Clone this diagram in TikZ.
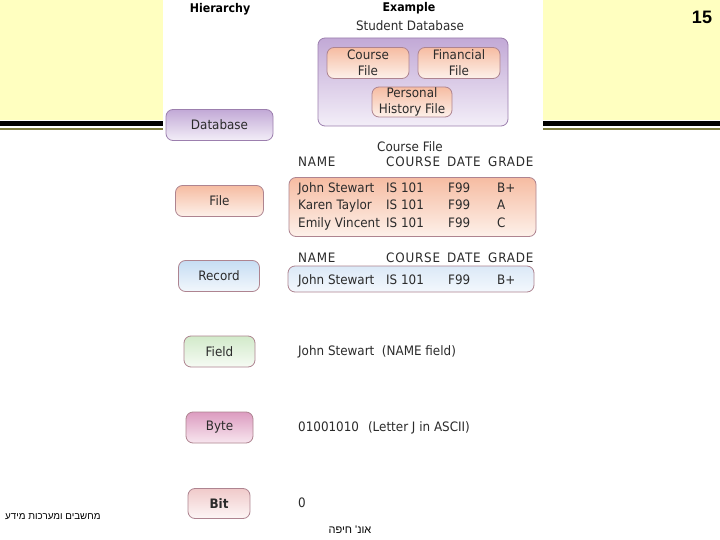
\documentclass[tikz,border=0pt]{standalone}
\usepackage{fontspec}
\setmainfont{DejaVu Sans}[FakeStretch=0.92]
\newfontfamily\headfont{DejaVu Sans}[FakeStretch=0.92, LetterSpace=6]
\newfontfamily\numfont{Liberation Sans}
\newfontfamily\hebfont[Script=Hebrew]{Liberation Sans}
\TeXXeTstate=1
\definecolor{slideyellow}{HTML}{FFFFC0}
\definecolor{oliveline}{HTML}{7F7F3F}
\definecolor{txt}{HTML}{2B2B2B}
\definecolor{purpleedge}{HTML}{9C7FAE}
\definecolor{pinkedge}{HTML}{AE8490}
\definecolor{c8b2da}{HTML}{C2A9D6}
\definecolor{f3eef8}{HTML}{F3EEF8}
\definecolor{f6bca2}{HTML}{F6BCA2}
\definecolor{fdf1ea}{HTML}{FDF1EA}
\definecolor{c6ddf3}{HTML}{C6DDF3}
\definecolor{f2f7fc}{HTML}{F2F7FC}
\definecolor{greentop}{HTML}{D2EACA}
\definecolor{greenbot}{HTML}{F6FBF4}
\definecolor{dc9cc0}{HTML}{DC9CC0}
\definecolor{f8e6ef}{HTML}{F8E6EF}
\definecolor{f3d2d2}{HTML}{F0CACA}
\definecolor{fdf6f6}{HTML}{FDF6F6}
\definecolor{dbe9f7}{HTML}{DBE9F7}
\definecolor{f4f8fd}{HTML}{F4F8FD}
\tikzset{
  lbl/.style={font=\fontsize{13}{15}\selectfont, text=txt, inner sep=0pt},
  cell/.style={lbl, anchor=base west},
  headcell/.style={cell, font=\headfont\fontsize{13}{15}\selectfont},
  bold/.style={font=\fontsize{12}{15}\selectfont\bfseries, text=black, inner sep=0pt},
  rbox/.style={draw, rounded corners=7pt, line width=0.8pt, inner sep=0pt, align=center,
    font=\fontsize{13}{16}\selectfont, text=txt},
  purplebox/.style={rbox, draw=purpleedge, top color=c8b2da, bottom color=f3eef8},
  orangebox/.style={rbox, draw=pinkedge, top color=f6bca2, bottom color=fdf1ea},
  bluebox/.style={rbox, draw=pinkedge, top color=c6ddf3, bottom color=f2f7fc},
  greenbox/.style={rbox, draw=pinkedge, top color=greentop, bottom color=greenbot},
  bytebox/.style={rbox, draw=pinkedge, top color=dc9cc0, bottom color=f8e6ef},
  bitbox/.style={rbox, draw=pinkedge, top color=f3d2d2, bottom color=fdf6f6},
}
\begin{document}
\begin{tikzpicture}[x=1pt,y=-1pt]
\useasboundingbox (0,0) rectangle (720,540);
\fill[white] (0,0) rectangle (720,540);
\fill[slideyellow] (0,0) rectangle (720,120);
\fill[black] (0,121) rectangle (720,126);
\fill[oliveline] (0,128.5) rectangle (720,130);
\fill[white] (163,0) rectangle (543,520);

% slide number and footers
\node[font=\numfont\fontsize{18}{20}\selectfont\bfseries, inner sep=0pt] (num) at (702,17) {15};
\node[font=\hebfont\fontsize{9.8}{11}\selectfont, inner sep=0pt, anchor=west] (foot1) at (5,517) {\beginR מחשבים ומערכות מידע\endR};
\node[font=\hebfont\fontsize{11}{13}\selectfont, inner sep=0pt] (foot2) at (350,530) {\beginR אונ' חיפה\endR};

% headings
\node[bold] (hier) at (220,9) {Hierarchy};
\node[bold] (example) at (409,8) {Example};
\node[lbl] (studb) at (410,26) {Student Database};

% database example
\node[purplebox, minimum width=190, minimum height=88] (dbex) at (413,82) {};
\node[orangebox, minimum width=82, minimum height=31] (coursef) at (368,63) {Course\\File};
\node[orangebox, minimum width=82, minimum height=31] (finf) at (459,63) {Financial\\File};
\node[orangebox, minimum width=80, minimum height=30] (persf) at (412,102) {Personal\\History File};

% hierarchy boxes
\node[purplebox, minimum width=107, minimum height=31] (database) at (219.5,125) {Database};
\node[orangebox, minimum width=88, minimum height=31] (file) at (219.5,201) {File};
\node[bluebox, minimum width=81, minimum height=31] (record) at (219,276) {Record};
\node[greenbox, minimum width=71, minimum height=31] (field) at (219.5,351.5) {Field};
\node[bytebox, minimum width=67, minimum height=31] (byte) at (219.5,427.5) {Byte};
\node[bitbox, minimum width=62, minimum height=30, font=\fontsize{13}{16}\selectfont\bfseries] (bit) at (219,503.5) {Bit};

% course file table
\node[lbl] (cftitle) at (410,147) {Course File};
\node[headcell] (h1) at (298,167) {NAME};
\node[headcell] (h2) at (386,167) {COURSE};
\node[headcell] (h3) at (447,167) {DATE};
\node[headcell] (h4) at (488,167) {GRADE};

\node[orangebox, minimum width=247, minimum height=59] (rows) at (412.5,207) {};
\node[cell] (r1a) at (298,193) {John Stewart};
\node[cell] (r1b) at (386,193) {IS 101};
\node[cell] (r1c) at (448,193) {F99};
\node[cell] (r1d) at (497,193) {B+};
\node[cell] (r2a) at (298,210) {Karen Taylor};
\node[cell] (r2b) at (386,210) {IS 101};
\node[cell] (r2c) at (448,210) {F99};
\node[cell] (r2d) at (497,210) {A};
\node[cell] (r3a) at (298,227) {Emily Vincent};
\node[cell] (r3b) at (386,227) {IS 101};
\node[cell] (r3c) at (448,227) {F99};
\node[cell] (r3d) at (497,227) {C};

% record
\node[headcell] (g1) at (298,262) {NAME};
\node[headcell] (g2) at (386,262) {COURSE};
\node[headcell] (g3) at (447,262) {DATE};
\node[headcell] (g4) at (488,262) {GRADE};
\node[bluebox, minimum width=246, minimum height=26, top color=dbe9f7, bottom color=f4f8fd] (recrow) at (411,279) {};
\node[cell] (s1) at (298,284) {John Stewart};
\node[cell] (s2) at (386,284) {IS 101};
\node[cell] (s3) at (448,284) {F99};
\node[cell] (s4) at (497,284) {B+};

% field, byte, bit examples
\node[cell] (fieldex) at (298,355) {John Stewart \ (NAME field)};
\node[cell] (byteex) at (298,431) {01001010\hspace{9pt}(Letter J in ASCII)};
\node[cell] (bitex) at (298,507) {0};
\end{tikzpicture}
\end{document}
